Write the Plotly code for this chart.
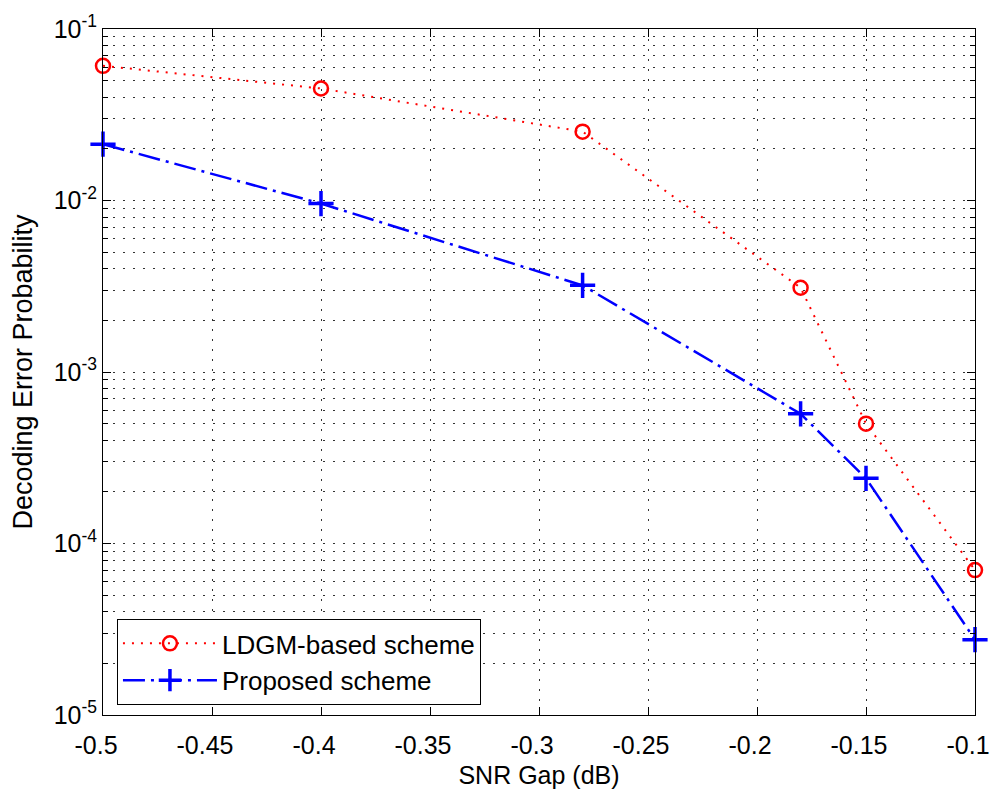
import plotly.graph_objects as go

snr_gap = [-0.5, -0.4, -0.28, -0.18, -0.15, -0.1]
ldgm_err = [0.061, 0.045, 0.0252, 0.0031, 0.0005, 0.00007]
proposed_err = [0.0213, 0.0096, 0.0032, 0.00057, 0.00024, 0.0000275]

x_ticks = [-0.5, -0.45, -0.4, -0.35, -0.3, -0.25, -0.2, -0.15, -0.1]
x_ticktext = ["-0.5", "-0.45", "-0.4", "-0.35", "-0.3", "-0.25", "-0.2", "-0.15", "-0.1"]
y_ticks = [1e-5, 1e-4, 1e-3, 1e-2, 1e-1]
y_ticktext = ["10<sup>-5</sup>", "10<sup>-4</sup>", "10<sup>-3</sup>", "10<sup>-2</sup>", "10<sup>-1</sup>"]
y_minor = [m * d for d in [1e-5, 1e-4, 1e-3, 1e-2] for m in range(2, 10)]

FONT = "Liberation Sans, Arial, Helvetica, sans-serif"
GRID = "#333333"
GRIDDASH = "2px,8px"

fig = go.Figure()
fig.add_trace(go.Scatter(
    x=snr_gap, y=ldgm_err, mode="lines+markers", name="LDGM-based scheme",
    line=dict(color="#ff0000", width=2, dash="2px,7px"),
    marker=dict(symbol="circle-open", size=14, color="#ff0000", line=dict(width=2.5, color="#ff0000")),
    cliponaxis=False,
))
fig.add_trace(go.Scatter(
    x=snr_gap, y=proposed_err, mode="lines+markers", name="Proposed scheme",
    line=dict(color="#0000ff", width=2.5, dash="22px,6px,3px,6px"),
    marker=dict(symbol="cross-thin-open", size=18, color="#0000ff", line=dict(width=3.5, color="#0000ff")),
    cliponaxis=False,
))

fig.update_layout(
    width=990, height=789,
    margin=dict(l=103, r=15, t=29, b=74, autoexpand=False),
    paper_bgcolor="white", plot_bgcolor="white",
    font=dict(family=FONT, size=25, color="black"),
    showlegend=True,
    legend=dict(
        x=0.016, y=0.14, xanchor="left", yanchor="top",
        bgcolor="white", bordercolor="black", borderwidth=1,
        font=dict(family=FONT, size=26, color="black"),
        itemwidth=94, tracegroupgap=0,
    ),
    xaxis=dict(
        range=[-0.5, -0.1], tickvals=x_ticks, ticktext=x_ticktext,
        ticks="inside", ticklen=8, tickwidth=1, tickcolor="black",
        showline=True, linecolor="black", linewidth=1, mirror="ticks",
        showgrid=True, gridcolor=GRID, griddash=GRIDDASH, gridwidth=1,
        zeroline=False, ticklabelstandoff=8, ticklabelshift=-7, automargin=False,
        ticklabeloverflow="allow",
        title=dict(text="SNR Gap (dB)", font=dict(family=FONT, size=25), standoff=9),
        tickfont=dict(family=FONT, size=25),
    ),
    yaxis=dict(
        type="log", range=[-5, -1], tickvals=y_ticks, ticktext=y_ticktext,
        ticks="inside", ticklen=8, tickwidth=1, tickcolor="black",
        showline=True, linecolor="black", linewidth=1, mirror="ticks",
        showgrid=True, gridcolor=GRID, griddash=GRIDDASH, gridwidth=1,
        zeroline=False, automargin=False, ticklabeloverflow="allow",
        minor=dict(tickvals=y_minor, ticks="inside", ticklen=5, tickcolor="black",
                   showgrid=True, gridcolor=GRID, griddash=GRIDDASH, gridwidth=1),
        title=dict(text="Decoding Error Probability", font=dict(family=FONT, size=27), standoff=13),
        tickfont=dict(family=FONT, size=25),
    ),
)

fig.write_html("out.html")
